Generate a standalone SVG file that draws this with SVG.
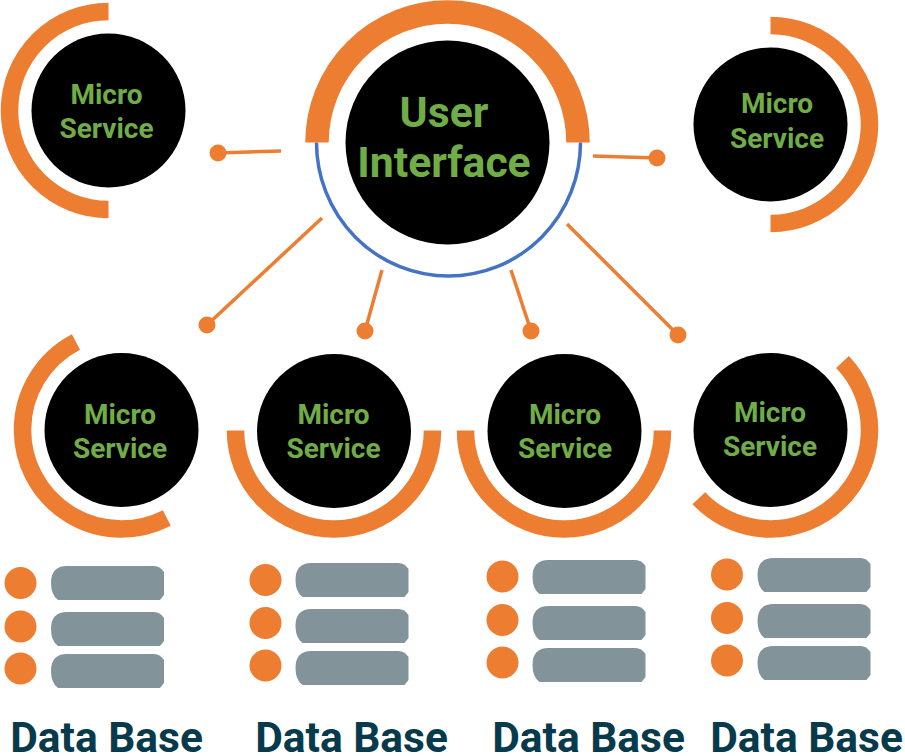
<svg xmlns="http://www.w3.org/2000/svg" xmlns:xlink="http://www.w3.org/1999/xlink" width="905" height="756" viewBox="0 0 905 756">
<style>
.bg{fill:#fff}
.disc{fill:#000}
.arc{fill:none;stroke:#ED7D31;stroke-width:17.5}
.ms{font-family:Roboto,"Liberation Sans",sans-serif;font-weight:700;font-size:28px;fill:#70AD47;text-anchor:middle}
.ui{font-family:Roboto,"Liberation Sans",sans-serif;font-weight:700;font-size:42.700px;fill:#70AD47;text-anchor:middle}
.db{font-family:Roboto,"Liberation Sans",sans-serif;font-weight:700;font-size:42.500px;fill:#073B4C;text-anchor:middle}
.link{stroke:#ED7D31;stroke-width:3.5;fill:none}
.dot{fill:#ED7D31}
.bar{fill:#829399}
</style>
<defs>
<path id="bar" d="M58 34 Q51 29 51 17 Q51 0 67 0 L154 0 Q160 0 164 6 L164 29 L160 34 Z"/>
</defs>
<rect class="bg" width="905" height="756"/>
<g id="connectors">
<path class="link" d="M218 153L281 151"/><circle class="dot" cx="218" cy="153" r="8.5"/>
<path class="link" d="M593 156L657 158"/><circle class="dot" cx="657" cy="158" r="8.5"/>
<path class="link" d="M322 218L207 325"/><circle class="dot" cx="207" cy="325" r="8.5"/>
<path class="link" d="M382 270L365 331"/><circle class="dot" cx="365" cy="331" r="8.5"/>
<path class="link" d="M511 270L531 331"/><circle class="dot" cx="531" cy="331" r="8.5"/>
<path class="link" d="M567 224L678 335"/><circle class="dot" cx="678" cy="335" r="8.5"/>
</g>
<g id="user-interface">
<path d="M316.500 142.500A131.500 133 0 0 0 580.500 142.500" fill="none" stroke="#4472C4" stroke-width="3.500"/>
<path d="M317 142.500A130.500 130.500 0 0 1 578 142.500" fill="none" stroke="#ED7D31" stroke-width="23.500"/>
<circle class="disc" cx="447.500" cy="142.500" r="102"/>
<text class="ui" x="444" y="127">User</text>
<text class="ui" x="444" y="177">Interface</text>
</g>
<g id="ms-top-left">
<path class="arc" d="M108.500 11.500A99 99 0 0 0 108.500 209.500"/>
<circle class="disc" cx="108.500" cy="110.500" r="77"/>
<text class="ms" x="106.500" y="104">Micro</text>
<text class="ms" x="106.500" y="138">Service</text>
</g>
<g id="ms-top-right">
<path class="arc" d="M770.500 25.500A99 99 0 0 1 770.500 223.500"/>
<circle class="disc" cx="770.500" cy="124.500" r="77"/>
<text class="ms" x="777" y="113">Micro</text>
<text class="ms" x="777" y="147.500">Service</text>
</g>
<g id="ms-1">
<path class="arc" d="M75.960 342.100A99 99 0 0 0 22.500 430A99 99 0 0 0 166.800 518.030"/>
<circle class="disc" cx="121.500" cy="430" r="77"/>
<text class="ms" x="120" y="424">Micro</text>
<text class="ms" x="120" y="458">Service</text>
</g>
<g id="ms-2">
<path class="arc" d="M235.500 430.500A98.500 98.500 0 0 0 432.500 430.500"/>
<circle class="disc" cx="334" cy="431" r="77"/>
<text class="ms" x="333.500" y="424">Micro</text>
<text class="ms" x="333.500" y="458">Service</text>
</g>
<g id="ms-3">
<path class="arc" d="M465.500 430.500A98.500 98.500 0 0 0 662.500 430.500"/>
<circle class="disc" cx="564.500" cy="431" r="77"/>
<text class="ms" x="565" y="424">Micro</text>
<text class="ms" x="565" y="458">Service</text>
</g>
<g id="ms-4">
<path class="arc" d="M842.500 362A99 99 0 0 1 869.500 430A99 99 0 0 1 698.800 498.200"/>
<circle class="disc" cx="770.500" cy="430" r="77"/>
<text class="ms" x="770" y="422">Micro</text>
<text class="ms" x="770" y="456">Service</text>
</g>
<g id="db-1">
<circle class="dot" cx="20.500" cy="583" r="16"/><circle class="dot" cx="20.500" cy="626.500" r="16"/><circle class="dot" cx="20.500" cy="668.500" r="16"/>
<use xlink:href="#bar" href="#bar" class="bar" transform="translate(0 566)"/><use xlink:href="#bar" href="#bar" class="bar" transform="translate(0 612)"/><use xlink:href="#bar" href="#bar" class="bar" transform="translate(0 654)"/>
<text class="db" x="106.500" y="752">Data Base</text>
</g>
<g id="db-2">
<circle class="dot" cx="265.500" cy="580" r="16"/><circle class="dot" cx="265.500" cy="623" r="16"/><circle class="dot" cx="265.500" cy="665.500" r="16"/>
<use xlink:href="#bar" href="#bar" class="bar" transform="translate(244.500 563)"/><use xlink:href="#bar" href="#bar" class="bar" transform="translate(244.500 609)"/><use xlink:href="#bar" href="#bar" class="bar" transform="translate(244.500 651)"/>
<text class="db" x="351.500" y="752">Data Base</text>
</g>
<g id="db-3">
<circle class="dot" cx="502.500" cy="576.500" r="16"/><circle class="dot" cx="502.500" cy="620" r="16"/><circle class="dot" cx="502.500" cy="662.500" r="16"/>
<use xlink:href="#bar" href="#bar" class="bar" transform="translate(481.500 560)"/><use xlink:href="#bar" href="#bar" class="bar" transform="translate(481.500 606)"/><use xlink:href="#bar" href="#bar" class="bar" transform="translate(481.500 648)"/>
<text class="db" x="588.500" y="752">Data Base</text>
</g>
<g id="db-4">
<circle class="dot" cx="727" cy="574.500" r="16"/><circle class="dot" cx="727" cy="618" r="16"/><circle class="dot" cx="727" cy="660.500" r="16"/>
<use xlink:href="#bar" href="#bar" class="bar" transform="translate(706.500 558)"/><use xlink:href="#bar" href="#bar" class="bar" transform="translate(706.500 604)"/><use xlink:href="#bar" href="#bar" class="bar" transform="translate(706.500 646)"/>
<text class="db" x="806.500" y="752">Data Base</text>
</g>
</svg>
